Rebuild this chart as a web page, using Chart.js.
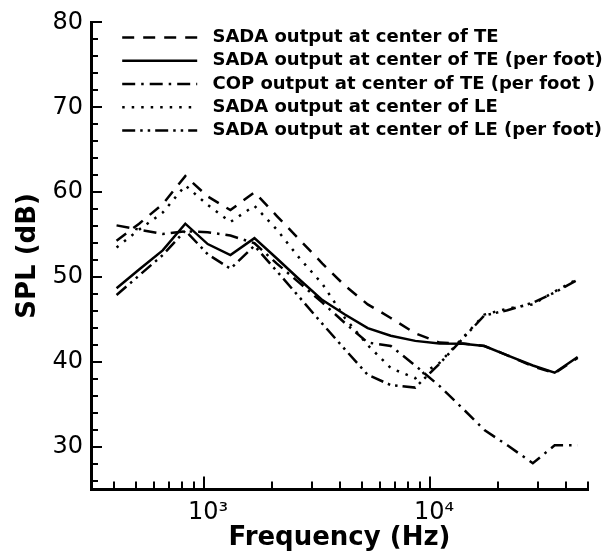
<!DOCTYPE html>
<html><head><meta charset="utf-8">
<script src="https://cdn.jsdelivr.net/npm/chart.js@4/dist/chart.umd.min.js"></script>
<style>html,body{margin:0;padding:0;background:#fff;}canvas{display:block;}</style>
</head><body>
<canvas id="c" width="616" height="554"></canvas>
<script>
// ---- data ----
const freqHz = [410, 516, 656, 826, 1038, 1308, 1671, 2100, 2650, 3340, 4200, 5300, 6700, 8600, 11000, 14000, 17400, 22000, 28500, 35600, 45000];
const sadaTE        = [54.3, 56.3, 58.6, 61.9, 59.5, 57.9, 60.0, 57.2, 54.4, 51.6, 49.0, 46.8, 45.2, 43.4, 42.3, 42.2, 41.9, 40.8, 39.5, 38.7, 40.5];
const sadaTEperFoot = [48.7, 50.9, 53.15, 56.3, 53.9, 52.6, 54.6, 52.2, 49.7, 47.3, 45.6, 44.0, 43.1, 42.5, 42.2, 42.15, 41.9, 40.8, 39.6, 38.75, 40.6];
const copTEperFoot  = [56.1, 55.6, 55.1, 55.4, 55.3, 54.9, 54.0, 51.6, 49.3, 47.0, 44.6, 42.3, 41.9, 39.6, 37.2, 34.5, 32.0, 30.2, 28.1, 30.2, 30.2];
const sadaLE        = [53.5, 55.6, 57.6, 60.8, 58.5, 56.5, 58.4, 55.6, 52.2, 49.2, 45.2, 42.0, 39.3, 38.1, 39.9, 42.9, 45.6, 46.3, 46.8, 48.3, 49.8];
const sadaLEperFoot = [47.9, 50.2, 52.6, 55.5, 52.7, 51.0, 53.7, 50.7, 47.6, 44.5, 41.5, 38.5, 37.3, 37.0, 39.8, 42.8, 45.5, 46.1, 47.0, 48.2, 49.7];

const seriesLabels = [
  'SADA output at center of TE',
  'SADA output at center of TE (per foot)',
  'COP output at center of TE (per foot )',
  'SADA output at center of LE',
  'SADA output at center of LE (per foot)'
];

const xMajorTicks  = [1000, 10000];
const xMajorLabels = ['10\u00B3', '10\u2074'];
const xMinorTicks  = [400, 500, 600, 700, 800, 900, 2000, 3000, 4000, 5000, 6000, 7000, 8000, 9000, 20000, 30000, 40000, 50000];
const yMajorTicks  = [30, 40, 50, 60, 70, 80];
const yMinorTicks  = [26, 28, 32, 34, 36, 38, 42, 44, 46, 48, 52, 54, 56, 58, 62, 64, 66, 68, 72, 74, 76, 78];

const toPts = arr => freqHz.map((f, i) => ({x: f, y: arr[i]}));

const dashes = [
  [12, 9],
  [],
  [13, 6, 2.5, 6],
  [2.5, 7],
  [13, 5, 2.5, 5, 2.5, 5]
];
const values = [sadaTE, sadaTEperFoot, copTEperFoot, sadaLE, sadaLEperFoot];

const datasets = values.map((v, i) => ({
  label: ' ' + seriesLabels[i],
  data: toPts(v),
  borderColor: '#000',
  backgroundColor: '#000',
  borderWidth: 2.5,
  borderDash: dashes[i],
  pointRadius: 0,
  tension: 0,
  fill: false
}));

const FONT = 'DejaVu Sans';

const insideTicks = {
  id: 'insideTicks',
  afterDraw(chart) {
    const ctx = chart.ctx, a = chart.chartArea;
    const xs = chart.scales.x, ys = chart.scales.y;
    ctx.save();
    ctx.strokeStyle = '#000';
    ctx.lineWidth = 2;
    ctx.setLineDash([]);
    ctx.beginPath();
    xs.ticks.forEach(t => {
      const px = Math.round(xs.getPixelForValue(t.value));
      const len = xMajorTicks.includes(t.value) ? 13 : 8;
      ctx.moveTo(px, a.bottom); ctx.lineTo(px, a.bottom - len);
    });
    ys.ticks.forEach(t => {
      const py = Math.round(ys.getPixelForValue(t.value));
      const len = yMajorTicks.includes(t.value) ? 11 : 7;
      ctx.moveTo(a.left, py); ctx.lineTo(a.left + len, py);
    });
    ctx.stroke();
    ctx.restore();
  }
};

const legendPlacement = {
  id: 'legendPlacement',
  beforeDraw(chart) {
    const lg = chart.legend; if (!lg) return;
    const a = chart.chartArea;
    lg.left = a.left + 26; lg.right = chart.width;
    lg.top = a.top + 1; lg.bottom = a.bottom;
  }
};

new Chart(document.getElementById('c'), {
  type: 'line',
  data: {datasets},
  plugins: [insideTicks, legendPlacement],
  options: {
    responsive: false,
    devicePixelRatio: 1,
    animation: false,
    layout: {padding: {top: 18.5, right: 28, left: 0, bottom: 0}},
    plugins: {
      tooltip: {enabled: false},
      legend: {
        position: 'chartArea',
        align: 'start',
        labels: {
          usePointStyle: true,
          pointStyle: 'line',
          pointStyleWidth: 75,
          padding: 5.2,
          color: '#000',
          font: {family: FONT, size: 18, weight: 'bold'},
          generateLabels: chart => {
            const items = Chart.defaults.plugins.legend.labels.generateLabels(chart);
            items.forEach(it => {
              const ds = chart.data.datasets[it.datasetIndex];
              it.lineDash = ds.borderDash;
              it.lineWidth = ds.borderWidth;
              it.strokeStyle = '#000';
              it.lineCap = 'butt';
            });
            return items;
          }
        }
      }
    },
    scales: {
      x: {
        type: 'logarithmic',
        min: 316, max: 50000,
        afterBuildTicks: s => { s.ticks = xMinorTicks.concat(xMajorTicks).sort((a, b) => a - b).map(v => ({value: v})); },
        afterFit: s => { s.height = 64.5; },
        grid: {display: false, drawTicks: false},
        border: {display: true, color: '#000', width: 3},
        ticks: {
          autoSkip: false, maxRotation: 0, padding: 9, labelOffset: 4, color: '#000',
          font: {family: FONT, size: 24},
          callback: v => { const k = xMajorTicks.indexOf(v); return k >= 0 ? xMajorLabels[k] : ''; }
        },
        title: {display: true, text: 'Frequency (Hz)', color: '#000',
          font: {family: FONT, size: 26, weight: 'bold'}, padding: {top: 0, bottom: 0}}
      },
      y: {
        type: 'linear',
        min: 25, max: 80,
        afterBuildTicks: s => { s.ticks = yMinorTicks.concat(yMajorTicks).sort((a, b) => a - b).map(v => ({value: v})); },
        afterFit: s => { s.width = 91; },
        grid: {display: false, drawTicks: false},
        border: {display: true, color: '#000', width: 3},
        ticks: {
          autoSkip: false, padding: 8, color: '#000',
          font: {family: FONT, size: 24},
          callback: v => yMajorTicks.includes(v) ? String(v) : ''
        },
        title: {display: true, text: 'SPL (dB)', color: '#000',
          font: {family: FONT, size: 26, weight: 'bold'}, padding: {top: 13, bottom: 0}}
      }
    }
  }
});
</script>
</body></html>
